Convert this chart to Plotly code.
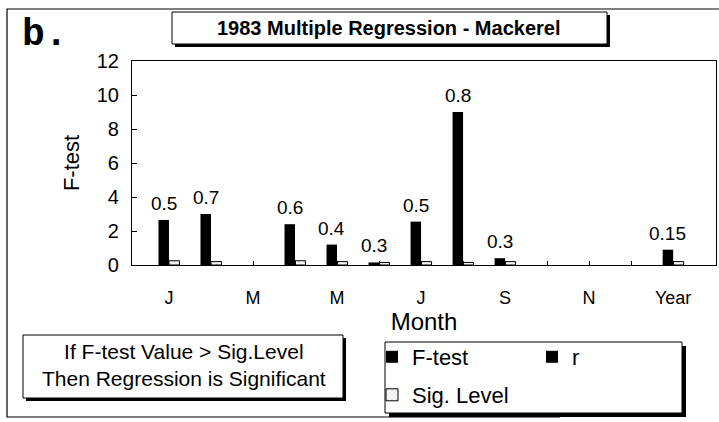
import plotly.graph_objects as go

# Monthly regression results (1983, mackerel)
months = ["J", "F", "M", "A", "M", "J", "J", "A", "S", "O", "N", "D", "Year"]
f_test = [2.65, 3.0, None, 2.4, 1.2, 0.15, 2.55, 9.0, 0.4, None, None, None, 0.9]
r_vals = [0.5, 0.7, None, 0.6, 0.4, 0.3, 0.5, 0.8, 0.3, None, None, None, 0.15]
sig_level = [0.25, 0.2, None, 0.25, 0.2, 0.15, 0.2, 0.15, 0.2, None, None, None, 0.2]
y_ticks = [0, 2, 4, 6, 8, 10, 12]

W, H = 719, 422
L, R, T, B = 132, 716, 61, 265          # plot area in pixels
BAR_GAP = 0.5
SLOT = (1 - BAR_GAP) / 2                 # width of one bar in category units

def xp(px):
    return (px - L) / (R - L)

def yp(py):
    return (B - py) / (B - T)

FONT = "Arial, Liberation Sans, sans-serif"
idx = list(range(len(months)))

fig = go.Figure()
fig.add_trace(go.Bar(x=idx, y=f_test, name="F-test", offsetgroup="f",
                     marker=dict(color="black", line=dict(width=0)),
                     legend="legend"))
fig.add_trace(go.Bar(x=idx, y=[None] * len(idx), name="r", offsetgroup="f",
                     marker=dict(color="black", line=dict(width=0)),
                     legend="legend"))
fig.add_trace(go.Bar(x=idx, y=sig_level, name="Sig. Level", offsetgroup="s",
                     marker=dict(color="white", line=dict(color="black", width=1),
                                 pattern=dict(shape="x", fgcolor="#777", size=4, solidity=0.25)),
                     legend="legend2"))

annotations = []
# r values written above the F-test bars
for i, (f, r) in enumerate(zip(f_test, r_vals)):
    if r is None:
        continue
    annotations.append(dict(x=i - SLOT / 2, y=f, xref="x", yref="y", text=f"{r:g}",
                            showarrow=False, yanchor="bottom", yshift=4,
                            font=dict(family=FONT, size=19, color="black")))

annotations += [
    dict(x=xp(20), y=yp(34), xref="paper", yref="paper", xanchor="left", yanchor="middle",
         text="<b>b.</b>", showarrow=False,
         font=dict(family="Courier New, Liberation Mono, monospace", size=38, color="black")),
    dict(x=xp(388), y=yp(28), xref="paper", yref="paper", xanchor="center", yanchor="middle",
         text="<b>1983 Multiple Regression - Mackerel</b>", showarrow=False,
         font=dict(family=FONT, size=20, color="black")),
    dict(x=xp(184), y=yp(365), xref="paper", yref="paper", xanchor="center", yanchor="middle",
         text="If F-test Value > Sig.Level<br>Then Regression is Significant", showarrow=False,
         font=dict(family=FONT, size=21, color="black")),
]

def boxed(x0, y0, x1, y1, off):
    return [
        dict(type="rect", xref="paper", yref="paper", x0=xp(x0 + off), x1=xp(x1 + off),
             y0=yp(y0 + off), y1=yp(y1 + off), fillcolor="black", line=dict(width=0)),
        dict(type="rect", xref="paper", yref="paper", x0=xp(x0), x1=xp(x1),
             y0=yp(y0), y1=yp(y1), fillcolor="white", line=dict(color="black", width=1)),
    ]

# outer frame: left, top and bottom edges
frame_path = "M {:.4f},{:.4f} L {:.4f},{:.4f} L {:.4f},{:.4f} L {:.4f},{:.4f}".format(
    xp(719), yp(9), xp(7), yp(9), xp(7), yp(417), xp(560), yp(417))
shapes = [dict(type="path", xref="paper", yref="paper", path=frame_path,
               line=dict(color="black", width=1.2))]
shapes += boxed(172, 12, 607, 44, 3)
shapes += boxed(23, 335, 343, 398, 3)
shapes += boxed(385, 342, 682, 413, 4)

fig.update_layout(
    width=W, height=H,
    margin=dict(l=L, r=W - R, t=T, b=H - B, autoexpand=False),
    paper_bgcolor="white", plot_bgcolor="white",
    barmode="group", bargap=BAR_GAP, bargroupgap=0,
    font=dict(family=FONT, color="black"),
    showlegend=True,
    legend=dict(x=xp(372), y=yp(336), xanchor="left", yanchor="top", orientation="h",
                entrywidth=115, bgcolor="rgba(0,0,0,0)", borderwidth=0,
                font=dict(family=FONT, size=22), traceorder="normal"),
    legend2=dict(x=xp(372), y=yp(374), xanchor="left", yanchor="top", orientation="h",
                 bgcolor="rgba(0,0,0,0)", borderwidth=0,
                 font=dict(family=FONT, size=22)),
    xaxis=dict(range=[-0.88, 13.02], tickmode="array", tickvals=idx,
               ticktext=[m if i % 2 == 0 else "" for i, m in enumerate(months)],
               ticks="inside", ticklen=4, tickcolor="black",
               showline=True, linecolor="black", linewidth=1.2, mirror=True,
               showgrid=False, zeroline=False, ticklabelstandoff=16,
               tickfont=dict(family=FONT, size=18),
               title=dict(text="Month", font=dict(family=FONT, size=24), standoff=2)),
    yaxis=dict(range=[0, 12], tickmode="array", tickvals=y_ticks,
               ticks="inside", ticklen=5, tickcolor="black",
               showline=True, linecolor="black", linewidth=1.2, mirror=True,
               showgrid=False, zeroline=False, ticklabelstandoff=8,
               tickfont=dict(family=FONT, size=20),
               title=dict(text="F-test", font=dict(family=FONT, size=22), standoff=10)),
    shapes=shapes, annotations=annotations,
)

fig.write_html("out.html")
